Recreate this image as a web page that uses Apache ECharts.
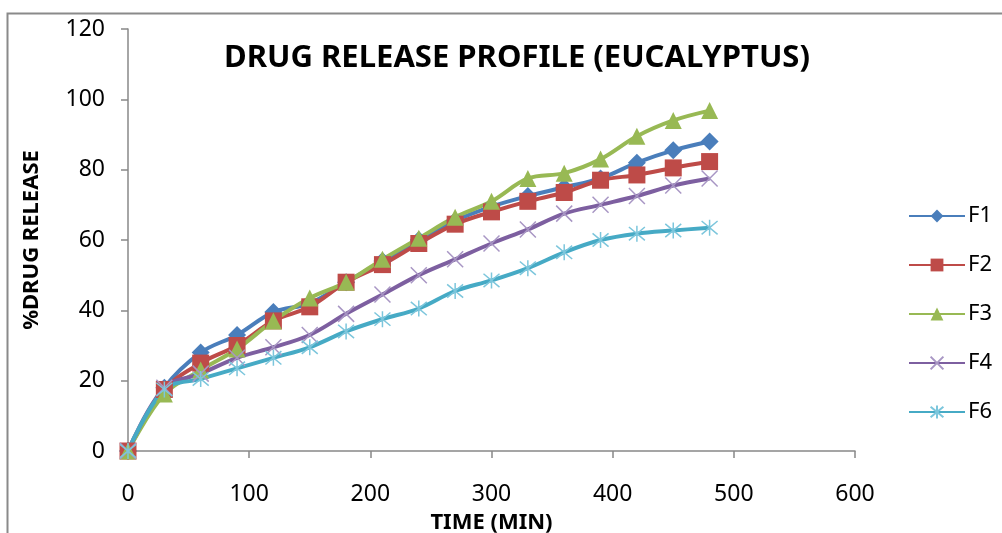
<!DOCTYPE html>
<html>
<head>
<meta charset="utf-8">
<script src="https://cdn.jsdelivr.net/npm/echarts@6/dist/echarts.min.js"></script>
<style>
  html, body { margin: 0; padding: 0; background: #fff; }
  #chart { width: 1002px; height: 533px; }
</style>
</head>
<body>
<div id="chart"></div>
<script>
// time points (min)
const times = [0, 30, 60, 90, 120, 150, 180, 210, 240, 270, 300, 330, 360, 390, 420, 450, 480];

// % drug release per formulation
const f1 = [0, 18, 28, 33, 39.5, 42, 48, 54, 60, 65.5, 69.5, 72.5, 75, 77.5, 82, 85.5, 88];
const f2 = [0, 17.5, 25, 30, 37, 41, 48, 53, 59, 64.5, 68, 71, 73.5, 77, 78.5, 80.5, 82.3];
const f3 = [0, 16.2, 23, 29, 37, 43.5, 48, 54.5, 60.5, 66.5, 71, 77.5, 79, 83, 89.5, 94, 96.8];
const f4 = [0, 18, 22, 26.5, 29.5, 33, 39, 44.5, 50, 54.5, 59, 63, 67.5, 70, 72.5, 75.5, 77.5];
const f6 = [0, 17.5, 20.5, 23.5, 26.5, 29.5, 34, 37.5, 40.5, 45.5, 48.5, 52, 56.5, 60, 61.8, 62.7, 63.5];

const seriesNames = ["F1", "F2", "F3", "F4", "F6"];

const FONT = "'Noto Sans', sans-serif";

// custom stroked marker shapes
const crossPath = "path://M0,0L10,10M10,0L0,10";
const starPath = "path://M0,0L10,10M10,0L0,10M5,-1L5,11";

const pairs = (ys) => times.map((t, i) => [t, ys[i]]);

function makeSeries(name, ys, color, symbol, size, markerStyle) {
  return {
    name,
    type: "line",
    data: pairs(ys),
    smooth: 0.35,
    symbol,
    symbolSize: size,
    showAllSymbol: true,
    lineStyle: { color, width: 4 },
    itemStyle: markerStyle || { color },
    emphasis: { disabled: true },
  };
}

const chart = echarts.init(document.getElementById("chart"), null, { renderer: "canvas" });

chart.setOption({
  animation: false,
  backgroundColor: "#fff",
  title: {
    text: "DRUG RELEASE PROFILE (EUCALYPTUS)",
    left: 512,
    textAlign: "center",
    top: 38,
    textStyle: { fontFamily: FONT, fontSize: 31, fontWeight: "bold", color: "#000" },
  },
  legend: {
    orient: "vertical",
    left: 903,
    top: 200,
    itemGap: 27,
    itemWidth: 56,
    itemHeight: 16,
    data: seriesNames,
    textStyle: { fontFamily: FONT, fontSize: 22, color: "#000", padding: [0, 0, 0, -2] },
  },
  graphic: [
    {
      type: "polyline",
      shape: { points: [[7.5, 600], [7.5, 13.5], [1100, 13.5]] },
      style: { stroke: "#8a8a8a", lineWidth: 2, fill: null },
      silent: true,
    },
  ],
  grid: { left: 128, right: 147, top: 29, bottom: 82, containLabel: false, outerBoundsMode: "none" },
  xAxis: {
    type: "value",
    min: 0,
    max: 600,
    interval: 100,
    name: "TIME (MIN)",
    nameLocation: "middle",
    nameGap: 61,
    nameTextStyle: { fontFamily: FONT, fontSize: 22, fontWeight: "bold", color: "#000" },
    axisLine: { show: true, lineStyle: { color: "#888", width: 1.5 } },
    axisTick: { show: true, length: 7, lineStyle: { color: "#888", width: 1.5 } },
    axisLabel: { margin: 32, fontFamily: FONT, fontSize: 23, color: "#000" },
    splitLine: { show: false },
  },
  yAxis: {
    type: "value",
    min: 0,
    max: 120,
    interval: 20,
    name: "%DRUG RELEASE",
    nameLocation: "middle",
    nameRotate: 90,
    nameGap: 85,
    nameTextStyle: { fontFamily: FONT, fontSize: 22, fontWeight: "bold", color: "#000" },
    axisLine: { show: true, lineStyle: { color: "#888", width: 1.5 } },
    axisTick: { show: true, length: 7, lineStyle: { color: "#888", width: 1.5 } },
    axisLabel: { margin: 23, fontFamily: FONT, fontSize: 23, color: "#000" },
    splitLine: { show: false },
  },
  series: [
    makeSeries("F1", f1, "#4a7ebb", "diamond", 18),
    makeSeries("F2", f2, "#be4b48", "rect", 17),
    makeSeries("F3", f3, "#98b954", "triangle", 17),
    makeSeries("F4", f4, "#7d5fa0", crossPath, 16,
      { color: "rgba(0,0,0,0)", borderColor: "#a896c4", borderWidth: 1.5 }),
    makeSeries("F6", f6, "#46aac5", starPath, 16,
      { color: "rgba(0,0,0,0)", borderColor: "#7cc6dc", borderWidth: 1.5 }),
  ],
});
</script>
</body>
</html>
